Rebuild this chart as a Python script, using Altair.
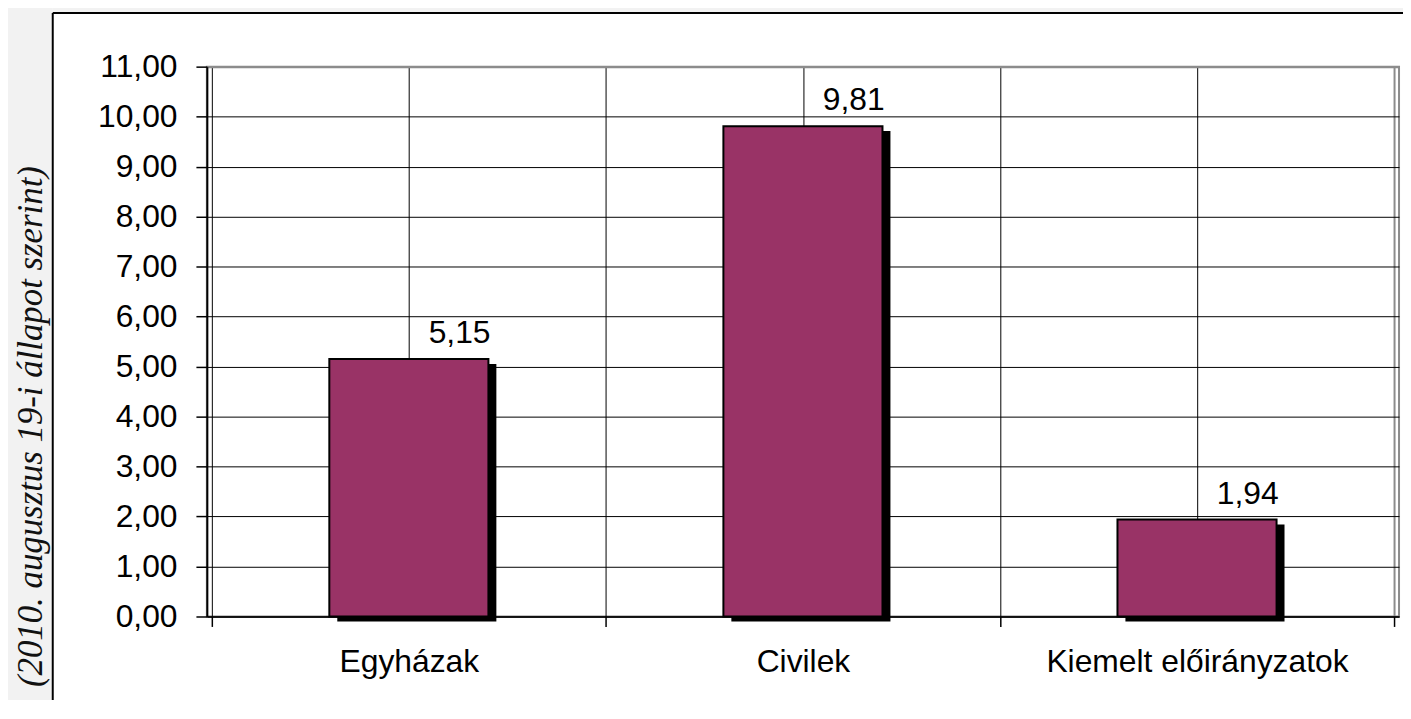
import altair as alt
import pandas as pd

categories = ["Egyházak", "Civilek", "Kiemelt előirányzatok"]
values = [5.15, 9.81, 1.94]
y_ticks = [0, 1, 2, 3, 4, 5, 6, 7, 8, 9, 10, 11]
side_note = "(2010. augusztus 19-i állapot szerint)"

df = pd.DataFrame({"cat": categories, "value": values})

W, H = 1199, 553
FONT = "Liberation Sans"

label_expr = " : ".join(
    f"datum.value == {2 * i + 1} ? '{c}'" for i, c in enumerate(categories)
) + " : ''"

base = alt.Chart(df).transform_window(
    rn="row_number()"
).transform_calculate(
    pos="2 * datum.rn - 1",
    lbl="replace(format(datum.value, '.2f'), '.', ',')",
)

x_enc = alt.X(
    "pos:Q",
    scale=alt.Scale(domain=[0, 2 * len(categories)], nice=False, zero=False),
    axis=alt.Axis(
        values=list(range(0, 2 * len(categories) + 1)),
        labelExpr=label_expr,
        title=None,
        grid=True,
        gridColor={"condition": {"test": "datum.value == 6", "value": "#8c8c8c"}, "value": "#000000"},
        gridWidth={"condition": {"test": "datum.value == 6", "value": 2}, "value": 1},
        tickOpacity={"condition": {"test": "datum.value % 2 == 0", "value": 1}, "value": 0},
        tickSize=10,
        tickColor="#000000",
        tickWidth=1.5,
        domainColor="#000000",
        domainWidth=1.5,
        labelFont=FONT,
        labelFontSize=32,
        labelColor="#000000",
        labelPadding=20,
        labelAngle=0,
        labelLimit=0,
        labelOverlap=False,
    ),
)

y_enc = alt.Y(
    "value:Q",
    scale=alt.Scale(domain=[0, 11], nice=False, zero=True),
    axis=alt.Axis(
        values=y_ticks,
        labelExpr="replace(format(datum.value, '.2f'), '.', ',')",
        title=None,
        grid=True,
        gridColor={"condition": {"test": "datum.value == 11", "value": "#8c8c8c"}, "value": "#000000"},
        gridWidth={"condition": {"test": "datum.value == 11", "value": 2}, "value": 1},
        tickSize=11,
        tickColor="#000000",
        tickWidth=1.5,
        domainColor="#000000",
        domainWidth=2,
        labelFont=FONT,
        labelFontSize=32,
        labelColor="#000000",
        labelPadding=19,
        labelOverlap=False,
    ),
)

one = pd.DataFrame({"k": [0]})

left_strip = alt.Chart(one).mark_rect(fill="#f2f2f2").encode(
    x=alt.value(-210), x2=alt.value(-155), y=alt.value(-70), y2=alt.value(700)
)
top_strip = alt.Chart(one).mark_rect(fill="#f2f2f2").encode(
    x=alt.value(-155), x2=alt.value(1300), y=alt.value(-70), y2=alt.value(-54)
)
frame_left = alt.Chart(one).mark_rule(color="#000000", strokeWidth=2).encode(
    x=alt.value(-155), y=alt.value(-54), y2=alt.value(700)
)
frame_top = alt.Chart(one).mark_rule(color="#000000", strokeWidth=2).encode(
    x=alt.value(-155), x2=alt.value(1300), y=alt.value(-54)
)
note = alt.Chart(one).mark_text(
    text=side_note, angle=270, font="Liberation Serif", fontStyle="italic",
    fontSize=35, align="center", baseline="middle", color="#111111"
).encode(x=alt.value(-177), y=alt.value(362))

shadow = base.mark_bar(color="#000000", width=160, xOffset=8, yOffset=5, y2Offset=-5).encode(
    x=x_enc, y=y_enc
)
bars = base.mark_bar(fill="#993366", stroke="#000000", strokeWidth=2, width=160).encode(
    x=x_enc, y=y_enc
)
labels = base.mark_text(
    font=FONT, fontSize=32, dx=51, dy=-16, baseline="alphabetic", align="center", color="#000000"
).encode(x=x_enc, y=y_enc, text="lbl:N")

chart = alt.layer(
    left_strip, top_strip, frame_left, frame_top, note, shadow, bars, labels
).properties(
    width=W,
    height=H,
    autosize=alt.AutoSizeParams(type="none"),
    padding={"left": 200, "top": 57, "right": 4, "bottom": 82},
    background="#ffffff",
).configure_view(
    stroke="#8c8c8c", strokeWidth=2
)

chart.save("out.html", embed_options={"renderer": "svg", "actions": False})
